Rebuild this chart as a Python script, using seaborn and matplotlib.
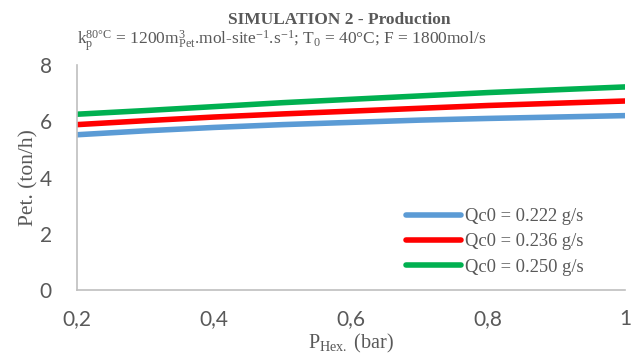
import pandas as pd
import seaborn as sns
import matplotlib.pyplot as plt

p_hex = [0.2, 0.3, 0.4, 0.5, 0.6, 0.7, 0.8, 0.9, 1.0]
qc_222 = [5.52, 5.66, 5.78, 5.88, 5.96, 6.04, 6.10, 6.15, 6.20]
qc_236 = [5.88, 6.02, 6.15, 6.26, 6.36, 6.46, 6.56, 6.64, 6.72]
qc_250 = [6.25, 6.38, 6.52, 6.66, 6.78, 6.90, 7.02, 7.12, 7.22]
labels = ['Qc0 = 0.222 g/s', 'Qc0 = 0.236 g/s', 'Qc0 = 0.250 g/s']
colors = ['#5b9bd5', '#ff0000', '#00b050']

df = pd.concat([
    pd.DataFrame({'P': p_hex, 'Pet': vals, 'serie': lab})
    for vals, lab in zip([qc_222, qc_236, qc_250], labels)
])

sns.set_theme(style="white")
plt.rcParams['mathtext.fontset'] = 'custom'
plt.rcParams['mathtext.rm'] = 'Liberation Serif'
plt.rcParams['mathtext.it'] = 'Liberation Serif:italic'
plt.rcParams['mathtext.bf'] = 'Liberation Serif:bold'

fig = plt.figure(figsize=(6.34, 3.58), dpi=100)
ax = fig.add_axes([77/634, 1-290/358, 548/634, 225/358])

sns.lineplot(data=df, x='P', y='Pet', hue='serie', palette=colors, linewidth=4,
             ax=ax, solid_capstyle='round')

ax.set_xlim(0.2, 1.0)
ax.set_ylim(0, 8)
ax.set_xticks([0.2, 0.4, 0.6, 0.8, 1.0])
ax.set_xticklabels(['0,2', '0,4', '0,6', '0,8', '1'])
ax.set_yticks([0, 2, 4, 6, 8])
ax.tick_params(axis='both', labelsize=15, labelcolor='#595959', length=0)
ax.tick_params(axis='x', pad=14)
ax.tick_params(axis='y', pad=18)
for t in ax.get_xticklabels() + ax.get_yticklabels():
    t.set_family('Lato')

for s in ['top', 'right']:
    ax.spines[s].set_visible(False)
for s in ['left', 'bottom']:
    ax.spines[s].set_color('#bfbfbf')
    ax.spines[s].set_linewidth(1.2)

serif = 'Liberation Serif'
ax.set_xlabel(r'$\mathregular{P_{Hex.}}$ (bar)', family=serif, fontsize=14.5, color='#595959', labelpad=2)
ax.set_ylabel('Pet. (ton/h)', family=serif, fontsize=15.5, color='#595959', labelpad=1)

fig.text(0.535, 0.945, 'SIMULATION 2 - Production', family=serif, fontsize=12.5,
         fontweight='bold', color='#595959', ha='center', va='center')
fig.text(0.445, 0.885,
         r'$\mathregular{k_p^{80°C}}$ = 1200m$\mathregular{^3_{Pet}}$.mol-site$\mathregular{^{-1}}$.s$\mathregular{^{-1}}$; '
         r'T$\mathregular{_0}$ = 40°C; F = 1800mol/s',
         family=serif, fontsize=12.5, color='#595959', ha='center', va='center')

leg = ax.legend(loc='lower right', frameon=False, fontsize=13.3, handlelength=3.0,
                handletextpad=0.2, labelspacing=0.45, bbox_to_anchor=(0.955, -0.01))
for t in leg.get_texts():
    t.set_family(serif)
    t.set_color('#595959')

fig.savefig('out.png', dpi=100)
